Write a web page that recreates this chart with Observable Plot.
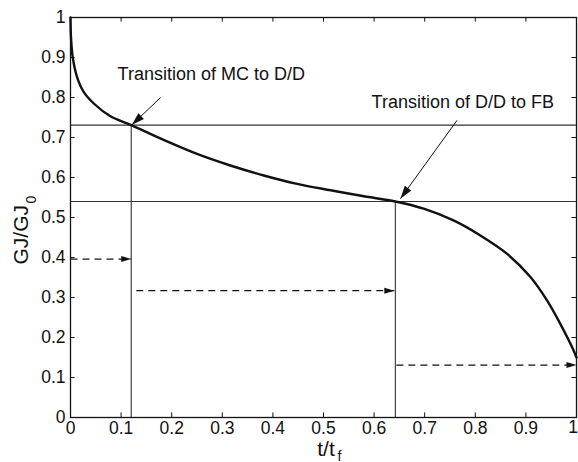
<!DOCTYPE html>
<html>
<head>
<meta charset="utf-8">
<script src="https://cdn.jsdelivr.net/npm/d3@7"></script>
<script src="https://cdn.jsdelivr.net/npm/@observablehq/plot@0.6"></script>
<style>
  html, body { margin: 0; padding: 0; background: #fff; }
  #chart svg { display: block; }
</style>
</head>
<body>
<div id="chart"></div>
<script>
// ---- data ----
const xTicks = [0, 0.1, 0.2, 0.3, 0.4, 0.5, 0.6, 0.7, 0.8, 0.9, 1];
const yTicks = [0, 0.1, 0.2, 0.3, 0.4, 0.5, 0.6, 0.7, 0.8, 0.9, 1];
const xTickLabels = ["0", "0.1", "0.2", "0.3", "0.4", "0.5", "0.6", "0.7", "0.8", "0.9", "1"];
const yTickLabels = ["0", "0.1", "0.2", "0.3", "0.4", "0.5", "0.6", "0.7", "0.8", "0.9", "1"];

const curveT = [0, 0.001, 0.0045, 0.013, 0.026, 0.046, 0.079, 0.12, 0.184, 0.25, 0.316, 0.382, 0.448, 0.514, 0.58, 0.642, 0.698, 0.758, 0.81, 0.863, 0.909, 0.942, 0.968, 0.993, 1.0];
const curveG = [1.0, 0.95, 0.90, 0.851, 0.814, 0.785, 0.753, 0.731, 0.694, 0.659, 0.630, 0.605, 0.584, 0.568, 0.553, 0.540, 0.522, 0.492, 0.455, 0.409, 0.351, 0.292, 0.234, 0.171, 0.150];

const transT = [0.12, 0.642];
const transG = [0.731, 0.540];

const dashY = [0.396, 0.317, 0.131];
const dashFrom = [0, 0.13, 0.644];
const dashTo = [0.12, 0.640, 1.0];

const annText = ["Transition of MC to D/D", "Transition of D/D to FB"];
const annTextX = [0.093, 0.595];
const annTextY = [0.843, 0.773];
const annTailX = [0.178, 0.764];
const annTailY = [0.800, 0.743];
const annTipX = [0.121, 0.652];
const annTipY = [0.731, 0.547];

const xLabel = ["t/t", "f"];
const yLabel = ["GJ/GJ", "0"];

// ---- tables built from the arrays ----
const curve = curveT.map((t, i) => ({t, g: curveG[i]}));
const trans = transT.map((t, i) => ({t, g: transG[i]}));
const dashes = dashY.map((y, i) => ({y, x1: dashFrom[i], x2: dashTo[i]}));
const ann = annText.map((s, i) => ({s, x: annTextX[i], y: annTextY[i], x1: annTailX[i], y1: annTailY[i], x2: annTipX[i], y2: annTipY[i]}));
const lastX = xTicks.length - 1;

function headMarker(len, wid) {
  return (color) => {
    const m = d3.create("svg:marker")
      .attr("viewBox", `0 ${-wid / 2} ${len} ${wid}`)
      .attr("markerUnits", "userSpaceOnUse")
      .attr("markerWidth", len)
      .attr("markerHeight", wid)
      .attr("refX", len)
      .attr("refY", 0)
      .attr("orient", "auto")
      .attr("overflow", "visible");
    m.append("path")
      .attr("d", `M0,${-wid / 2}L${len},0L0,${wid / 2}Z`)
      .attr("fill", color)
      .attr("stroke", "none")
      .attr("stroke-dasharray", "none");
    return m.node();
  };
}

const ink = "#111";
const font = "'Liberation Sans', Arial, Helvetica, sans-serif";

const chart = Plot.plot({
  width: 578,
  height: 462,
  marginLeft: 70,
  marginRight: 2,
  marginTop: 17,
  marginBottom: 45,
  style: {fontFamily: font, fontSize: "17.5px", color: ink, background: "#fff"},
  x: {domain: [0, 1]},
  y: {domain: [0, 1]},
  marks: [
    // reference lines
    Plot.ruleY(trans, {y: "g", x1: 0, x2: 1, stroke: "#333", strokeWidth: 1.1}),
    Plot.ruleX(trans, {x: "t", y1: 0, y2: "g", stroke: "#333", strokeWidth: 1.1}),
    // dashed arrows
    Plot.link(dashes, {x1: "x1", x2: "x2", y1: "y", y2: "y", stroke: ink, strokeWidth: 1.2, strokeDasharray: "7,5", markerEnd: headMarker(10, 6)}),
    // main curve
    Plot.line(curve, {x: "t", y: "g", stroke: ink, strokeWidth: 2.4, curve: "catmull-rom"}),
    // annotation arrows and text
    Plot.link(ann, {x1: "x1", y1: "y1", x2: "x2", y2: "y2", stroke: ink, strokeWidth: 1, markerEnd: headMarker(13, 8)}),
    Plot.text(ann, {x: "x", y: "y", text: "s", textAnchor: "start", lineAnchor: "bottom", fontSize: 18, fill: ink}),
    // frame and inside ticks
    Plot.frame({stroke: ink, strokeWidth: 1.3}),
    Plot.ruleX(xTicks, {x: d => d, y1: 0, y2: 0.0115, stroke: ink, strokeWidth: 1}),
    Plot.ruleX(xTicks, {x: d => d, y1: 1, y2: 0.9885, stroke: ink, strokeWidth: 1}),
    Plot.ruleY(yTicks, {y: d => d, x1: 0, x2: 0.009, stroke: ink, strokeWidth: 1}),
    Plot.ruleY(yTicks, {y: d => d, x1: 1, x2: 0.991, stroke: ink, strokeWidth: 1}),
    // tick labels
    Plot.axisX({ticks: xTicks.slice(0, lastX), tickSize: 0, tickPadding: 4, tickFormat: (d, i) => xTickLabels[i], label: null, fill: ink}),
    Plot.text([lastX], {x: i => xTicks[i], text: i => xTickLabels[i], frameAnchor: "bottom", textAnchor: "end", lineAnchor: "top", dx: 1.5, dy: 3, fill: ink}),
    Plot.axisY({ticks: yTicks, tickSize: 0, tickPadding: 5, tickFormat: (d, i) => yTickLabels[i], label: null, fill: ink}),
    // axis titles
    Plot.text([xLabel[0]], {frameAnchor: "bottom", text: d => d, dx: 2.5, dy: 38, lineAnchor: "bottom", fontSize: 21, fill: ink}),
    Plot.text([xLabel[1]], {frameAnchor: "bottom", text: d => d, dx: 14, dy: 43, textAnchor: "start", lineAnchor: "bottom", fontSize: 14, fill: ink}),
    Plot.text([yLabel[0]], {frameAnchor: "left", text: d => d, rotate: -90, dx: -43, dy: 47, textAnchor: "start", lineAnchor: "bottom", fontSize: 21, fill: ink}),
    Plot.text([yLabel[1]], {frameAnchor: "left", text: d => d, rotate: -90, dx: -35, dy: -14, textAnchor: "start", lineAnchor: "bottom", fontSize: 14, fill: ink})
  ]
});
document.getElementById("chart").appendChild(chart);
</script>
</body>
</html>
